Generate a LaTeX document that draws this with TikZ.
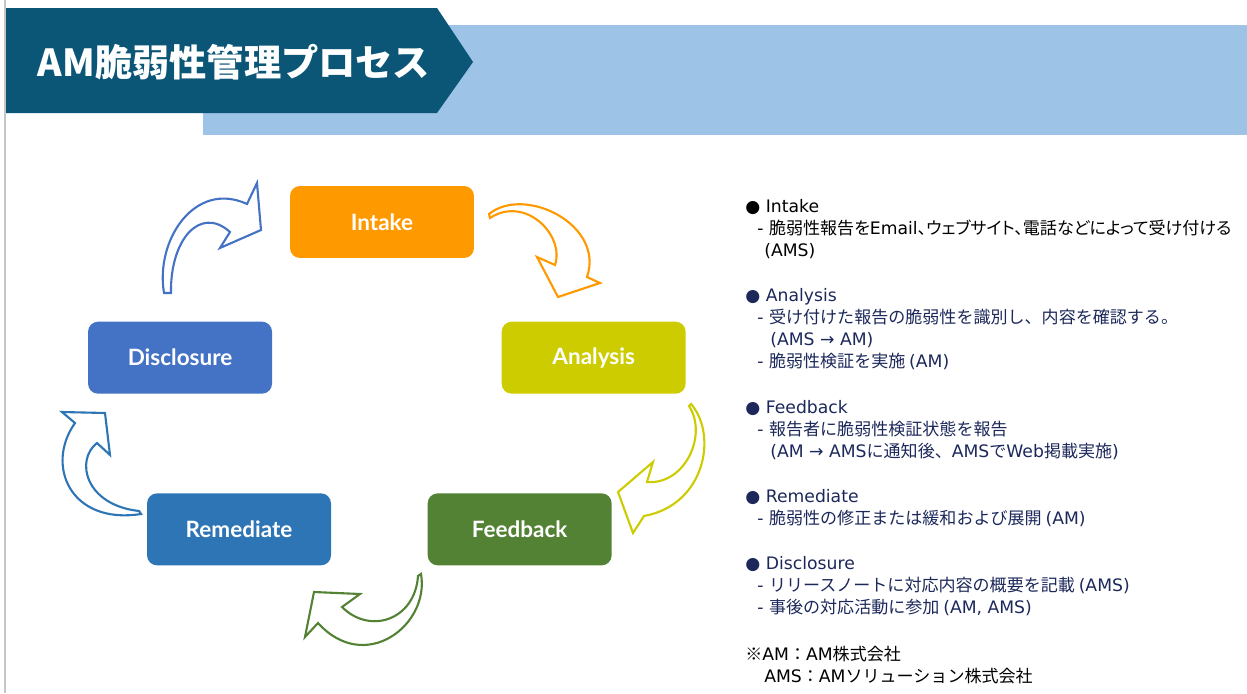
\documentclass[tikz,border=0pt]{standalone}
\usepackage{fontspec}
\newfontfamily\jpfont{Noto Sans CJK JP}
\newfontfamily\jptightfont[RawFeature=+palt]{Noto Sans CJK JP}
\newfontfamily\stagefont{Lato}
\newfontfamily\latinfont{DejaVu Sans}
\newcommand{\latn}[1]{{\latinfont\fontsize{9.8}{12.5}\selectfont #1}}
\usetikzlibrary{positioning}
\definecolor{bannerdark}{RGB}{11,86,119}
\definecolor{bannerlight}{RGB}{157,195,230}
\definecolor{intakecol}{RGB}{255,153,0}
\definecolor{analysiscol}{RGB}{204,204,0}
\definecolor{feedbackcol}{RGB}{84,130,53}
\definecolor{remediatecol}{RGB}{46,117,182}
\definecolor{disclosurecol}{RGB}{68,114,196}
\definecolor{navytext}{RGB}{28,40,90}
\tikzstyle{stage} = [rectangle, rounded corners=0.2cm, minimum width=3.68cm, minimum height=1.44cm, inner sep=0pt, text=white, font=\stagefont\bfseries\fontsize{12.8}{15}\selectfont]
\tikzstyle{info} = [anchor=north west, align=left, inner sep=0pt, font=\jpfont\fontsize{9.7}{12.5}\selectfont]
\tikzstyle{curved} = [fill=white, line width=1.2pt, line join=miter]
\tikzstyle{title} = [text=white, inner sep=0pt, font=\jpfont\bfseries\fontsize{21.2}{26}\selectfont]

\begin{document}
\begin{tikzpicture}[x=0.02cm, y=-0.02cm]
  \useasboundingbox (0,0) rectangle (1247,693);
  \draw[gray!45, line width=0.6pt] (5,0) -- (5,693);
  \fill[bannerlight] (203,25) rectangle (1247,135);
  \fill[bannerdark] (6,8) -- (437,8) -- (473,62) -- (437,113) -- (6,113) -- cycle;
  \node[title] (title) at (234,62) {AM脆弱性管理プロセス};

  \node[stage, fill=intakecol] (intake) at (382,222) {Intake};
  \node[stage, fill=analysiscol] (analysis) [below right=1.26cm and 0.54cm of intake] {Analysis};
  \node[stage, fill=feedbackcol] (feedback) [below=1.98cm of analysis, xshift=-1.48cm] {Feedback};
  \node[stage, fill=remediatecol] (remediate) [left=1.92cm of feedback] {Remediate};
  \node[stage, fill=disclosurecol] (disclosure) [above=1.98cm of remediate, xshift=-1.18cm] {Disclosure};

  \draw[curved, draw=disclosurecol] (164,293) .. controls (155,240) and (195,180) .. (247,204)
    -- (257,183) -- (261,230) -- (220,248) -- (230,232) .. controls (200,205) and (170,240) .. (171,293) -- cycle;
  \draw[curved, draw=intakecol] (489,214) .. controls (525,185) and (605,225) .. (587,277)
    -- (600,283) -- (558,297) -- (537,257) -- (555,265) .. controls (565,235) and (525,195) .. (490,218) -- cycle;
  \draw[curved, draw=analysiscol] (691,404) .. controls (718,435) and (705,505) .. (644,516)
    -- (633,533) -- (618,492) -- (653,462) -- (647,482) .. controls (685,485) and (708,435) .. (689,406) -- cycle;
  \draw[curved, draw=feedbackcol] (421,574) .. controls (430,625) and (365,675) .. (318,623)
    -- (305,637) -- (314,592) -- (360,594) -- (342,607) .. controls (370,635) and (415,620) .. (418,576) -- cycle;
  \draw[curved, draw=remediatecol] (141,514) .. controls (70,525) and (45,465) .. (75,423)
    -- (62,412) -- (105,413) -- (110,455) -- (97,443) .. controls (75,460) and (85,505) .. (139,511) -- cycle;

  \node[info, text=black] (intakeinfo) at (745,199) {\latn{● Intake}\\
    \hspace*{0.24cm}\latn{- }{\jptightfont 脆弱性報告を\latn{Email}、ウェブサイト、電話などによって受け付ける}\\
    \hspace*{0.38cm}\latn{(AMS)}};
  \node[info, text=navytext] (analysisinfo) at (745,288) {\latn{● Analysis}\\
    \hspace*{0.24cm}\latn{- }受け付けた報告の脆弱性を識別し、内容を確認する。\\
    \hspace*{0.5cm}\latn{(AMS → AM)}\\
    \hspace*{0.24cm}\latn{- }脆弱性検証を実施 \latn{(AM)}};
  \node[info, text=navytext] (feedbackinfo) at (745,400) {\latn{● Feedback}\\
    \hspace*{0.24cm}\latn{- }報告者に脆弱性検証状態を報告\\
    \hspace*{0.5cm}\latn{(AM → AMS}に通知後、\latn{AMS}で\latn{Web}掲載実施\latn{)}};
  \node[info, text=navytext] (remediateinfo) at (745,489) {\latn{● Remediate}\\
    \hspace*{0.24cm}\latn{- }脆弱性の修正または緩和および展開 \latn{(AM)}};
  \node[info, text=navytext] (disclosureinfo) at (745,556) {\latn{● Disclosure}\\
    \hspace*{0.24cm}\latn{- }リリースノートに対応内容の概要を記載 \latn{(AMS)}\\
    \hspace*{0.24cm}\latn{- }事後の対応活動に参加 \latn{(AM, AMS)}};
  \node[info, text=black] (note) at (745,646) {※\latn{AM}：\latn{AM}株式会社\\
    \hspace*{0.38cm}\latn{AMS}：\latn{AM}ソリューション株式会社};
\end{tikzpicture}
\end{document}
